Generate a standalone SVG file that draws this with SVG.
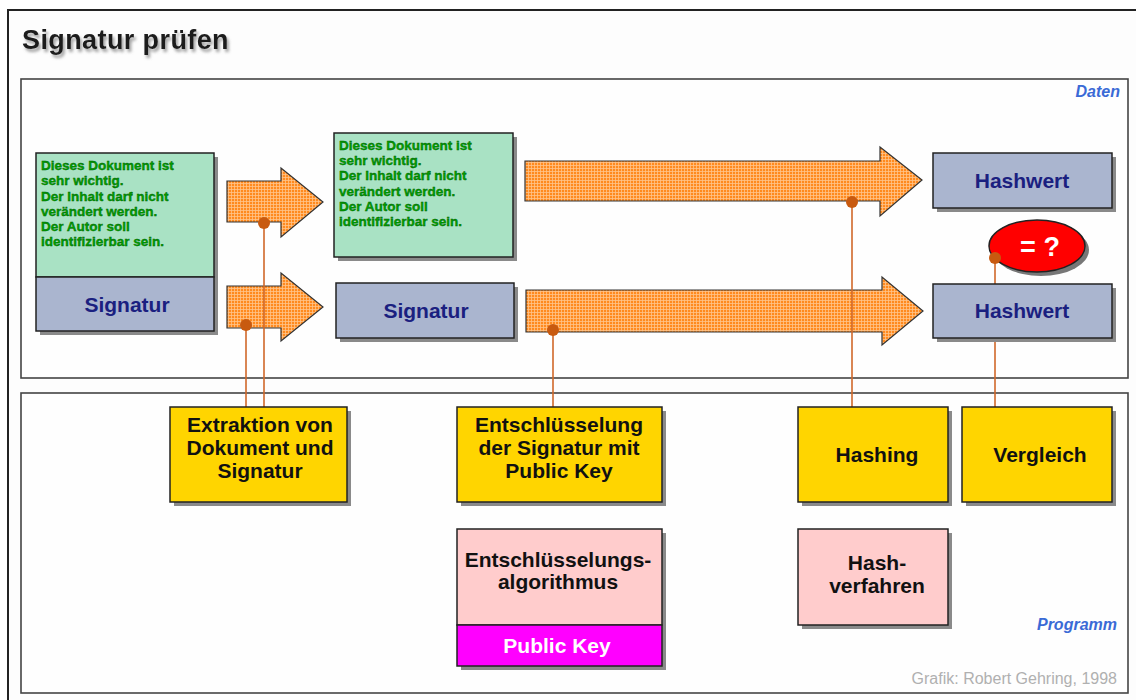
<svg xmlns="http://www.w3.org/2000/svg" width="1136" height="700" viewBox="0 0 1136 700">
  <defs>
    <pattern id="grid" width="3" height="3" patternUnits="userSpaceOnUse">
      <rect width="3" height="3" fill="#ff8a1e"/>
      <path d="M0 0.5H3M0.5 0V3" stroke="#ffc48a" stroke-width="0.8"/>
    </pattern>
    <!-- soft grey drop shadow for the heading -->
    <filter id="titleShadow" x="-5%" y="-30%" width="115%" height="170%">
      <feGaussianBlur in="SourceAlpha" stdDeviation="1.6" result="blur"/>
      <feOffset in="blur" dx="2" dy="3" result="off"/>
      <feFlood flood-color="#8a8a8a" flood-opacity="0.8"/>
      <feComposite in2="off" operator="in" result="shade"/>
      <feMerge>
        <feMergeNode in="shade"/>
        <feMergeNode in="SourceGraphic"/>
      </feMerge>
    </filter>
    <style>
      .frame { fill: #fdfdfd; stroke: #222; stroke-width: 2; }
      .panel { fill: #fefefe; stroke: #444; stroke-width: 1.6; }
      .shadow { fill: #8a8a8a; }
      .doc { fill: #a9e2c4; stroke: #222; stroke-width: 1.5; }
      .sig { fill: #aab5cf; stroke: #222; stroke-width: 1.5; }
      .step { fill: #ffd500; stroke: #222; stroke-width: 1.5; }
      .algo { fill: #ffcccc; stroke: #222; stroke-width: 1.5; }
      .key { fill: #ff00ff; stroke: #222; stroke-width: 1.5; }
      .arrow { fill: url(#grid); stroke: #333; stroke-width: 1.2; }
      .link { stroke: #d0682a; stroke-width: 1.6; fill: none; }
      .dot { fill: #c85a10; }
      .doctext { font-family: "Liberation Sans", Arial, sans-serif; font-weight: bold; font-size: 13.5px; fill: #00a000; stroke: #005a00; stroke-width: 0.35; }
      .data { font-family: "Liberation Sans", Arial, sans-serif; font-weight: bold; font-size: 21px; fill: #1a2080; text-anchor: middle; }
      .label { font-family: "Liberation Sans", Arial, sans-serif; font-weight: bold; font-size: 21px; fill: #111; text-anchor: middle; }
      .tag { font-family: "Liberation Sans", Arial, sans-serif; font-weight: bold; font-style: italic; font-size: 16px; fill: #3a6ad6; text-anchor: end; }
    </style>
  </defs>

  <!-- page frame and title -->
  <rect x="0" y="0" width="1136" height="700" fill="#ffffff"/>
  <rect class="frame" x="8" y="10" width="1140" height="700"/>
  <text x="22" y="49" font-family="Liberation Sans, Arial, sans-serif" font-weight="bold" font-size="27" letter-spacing="0.4" fill="#1a1a1a" filter="url(#titleShadow)">Signatur prüfen</text>

  <!-- data and program panels -->
  <g id="panel-daten">
    <rect class="panel" x="21" y="79" width="1107" height="299"/>
    <text class="tag" x="1120" y="97">Daten</text>
  </g>
  <g id="panel-programm">
    <rect class="panel" x="21" y="393" width="1107" height="300"/>
    <text class="tag" x="1117" y="630">Programm</text>
    <text x="1117" y="684" font-family="Liberation Sans, Arial, sans-serif" font-size="16" fill="#b0b0b0" text-anchor="end">Grafik: Robert Gehring, 1998</text>
  </g>

  <!-- signed document -->
  <g id="signed-document">
    <rect class="shadow" x="40" y="157" width="178" height="178"/>
    <rect class="doc" x="36" y="153" width="178" height="124"/>
    <rect class="sig" x="36" y="277" width="178" height="54"/>
    <text class="doctext">
      <tspan x="41" y="170">Dieses Dokument ist</tspan>
      <tspan x="41" y="185">sehr wichtig.</tspan>
      <tspan x="41" y="201">Der Inhalt darf nicht</tspan>
      <tspan x="41" y="216">verändert werden.</tspan>
      <tspan x="41" y="231">Der Autor soll</tspan>
      <tspan x="41" y="246">identifizierbar sein.</tspan>
    </text>
    <text class="data" x="127" y="312">Signatur</text>
  </g>

  <!-- flow arrows -->
  <g id="arrow-extract-doc">
    <path class="arrow" d="M227 181H281V168L323 202L281 237V222H227Z"/>
  </g>
  <g id="arrow-extract-sig">
    <path class="arrow" d="M227 286H281V273L323 307L281 341V328H227Z"/>
  </g>
  <g id="arrow-hash-doc">
    <path class="arrow" d="M525 161H880V147L922 180L880 216V201H525Z"/>
  </g>
  <g id="arrow-decrypt-sig">
    <path class="arrow" d="M526 290H882V277L923 311L882 345V332H526Z"/>
  </g>

  <!-- extracted document -->
  <g id="document">
    <rect class="shadow" x="338" y="137" width="179" height="124"/>
    <rect class="doc" x="334" y="133" width="179" height="124"/>
    <text class="doctext">
      <tspan x="339" y="150">Dieses Dokument ist</tspan>
      <tspan x="339" y="165">sehr wichtig.</tspan>
      <tspan x="339" y="180">Der Inhalt darf nicht</tspan>
      <tspan x="339" y="196">verändert werden.</tspan>
      <tspan x="339" y="211">Der Autor soll</tspan>
      <tspan x="339" y="226">identifizierbar sein.</tspan>
    </text>
  </g>

  <!-- extracted signature -->
  <g id="signature">
    <rect class="shadow" x="340" y="287" width="178" height="55"/>
    <rect class="sig" x="336" y="283" width="178" height="55"/>
    <text class="data" x="426" y="318">Signatur</text>
  </g>

  <!-- comparison marker -->
  <g id="compare">
    <ellipse cx="1041" cy="250" rx="48" ry="26" fill="#777"/>
    <ellipse cx="1037" cy="246" rx="48" ry="26" fill="#ff0000" stroke="#222" stroke-width="1.5"/>
    <text x="1040" y="256" font-family="Liberation Sans, Arial, sans-serif" font-weight="bold" font-size="27" fill="#ffffff" text-anchor="middle">= ?</text>
  </g>

  <!-- connectors from program steps to the data flow -->
  <g id="connectors">
    <line class="link" x1="264" y1="223" x2="264" y2="407"/>
    <line class="link" x1="246" y1="325" x2="246" y2="407"/>
    <line class="link" x1="553" y1="330" x2="553" y2="407"/>
    <line class="link" x1="852" y1="202" x2="852" y2="407"/>
    <line class="link" x1="995" y1="258" x2="995" y2="407"/>
    <circle class="dot" cx="264" cy="223" r="6"/>
    <circle class="dot" cx="246" cy="325" r="6"/>
    <circle class="dot" cx="553" cy="330" r="6"/>
    <circle class="dot" cx="852" cy="202" r="6"/>
    <circle class="dot" cx="995" cy="258" r="6"/>
  </g>

  <!-- hash values -->
  <g id="hashwert-dokument">
    <rect class="shadow" x="937" y="157" width="179" height="55"/>
    <rect class="sig" x="933" y="153" width="179" height="55"/>
    <text class="data" x="1022" y="188">Hashwert</text>
  </g>
  <g id="hashwert-signatur">
    <rect class="shadow" x="937" y="288" width="179" height="54"/>
    <rect class="sig" x="933" y="284" width="179" height="54"/>
    <text class="data" x="1022" y="318">Hashwert</text>
  </g>

  <!-- program steps -->
  <g id="step-extraktion">
    <rect class="shadow" x="174" y="411" width="177" height="95"/>
    <rect class="step" x="170" y="407" width="177" height="95"/>
    <text class="label"><tspan x="260" y="432">Extraktion von</tspan><tspan x="260" y="455">Dokument und</tspan><tspan x="260" y="478">Signatur</tspan></text>
  </g>
  <g id="step-entschluesselung">
    <rect class="shadow" x="461" y="411" width="205" height="95"/>
    <rect class="step" x="457" y="407" width="205" height="95"/>
    <text class="label"><tspan x="559" y="432">Entschlüsselung</tspan><tspan x="559" y="455">der Signatur mit</tspan><tspan x="559" y="478">Public Key</tspan></text>
  </g>
  <g id="step-hashing">
    <rect class="shadow" x="802" y="411" width="150" height="95"/>
    <rect class="step" x="798" y="407" width="150" height="95"/>
    <text class="label" x="877" y="462">Hashing</text>
  </g>
  <g id="step-vergleich">
    <rect class="shadow" x="966" y="411" width="150" height="95"/>
    <rect class="step" x="962" y="407" width="150" height="95"/>
    <text class="label" x="1040" y="462">Vergleich</text>
  </g>

  <!-- algorithms -->
  <g id="algo-entschluesselung">
    <rect class="shadow" x="461" y="533" width="205" height="137"/>
    <rect class="algo" x="457" y="529" width="205" height="96"/>
    <rect class="key" x="457" y="625" width="205" height="41"/>
    <text class="label"><tspan x="558" y="567">Entschlüsselungs-</tspan><tspan x="558" y="589">algorithmus</tspan></text>
    <text class="label" x="557" y="653" style="fill:#ffffff">Public Key</text>
  </g>
  <g id="algo-hash">
    <rect class="shadow" x="802" y="533" width="150" height="96"/>
    <rect class="algo" x="798" y="529" width="150" height="96"/>
    <text class="label"><tspan x="877" y="570">Hash-</tspan><tspan x="877" y="593">verfahren</tspan></text>
  </g>
</svg>
